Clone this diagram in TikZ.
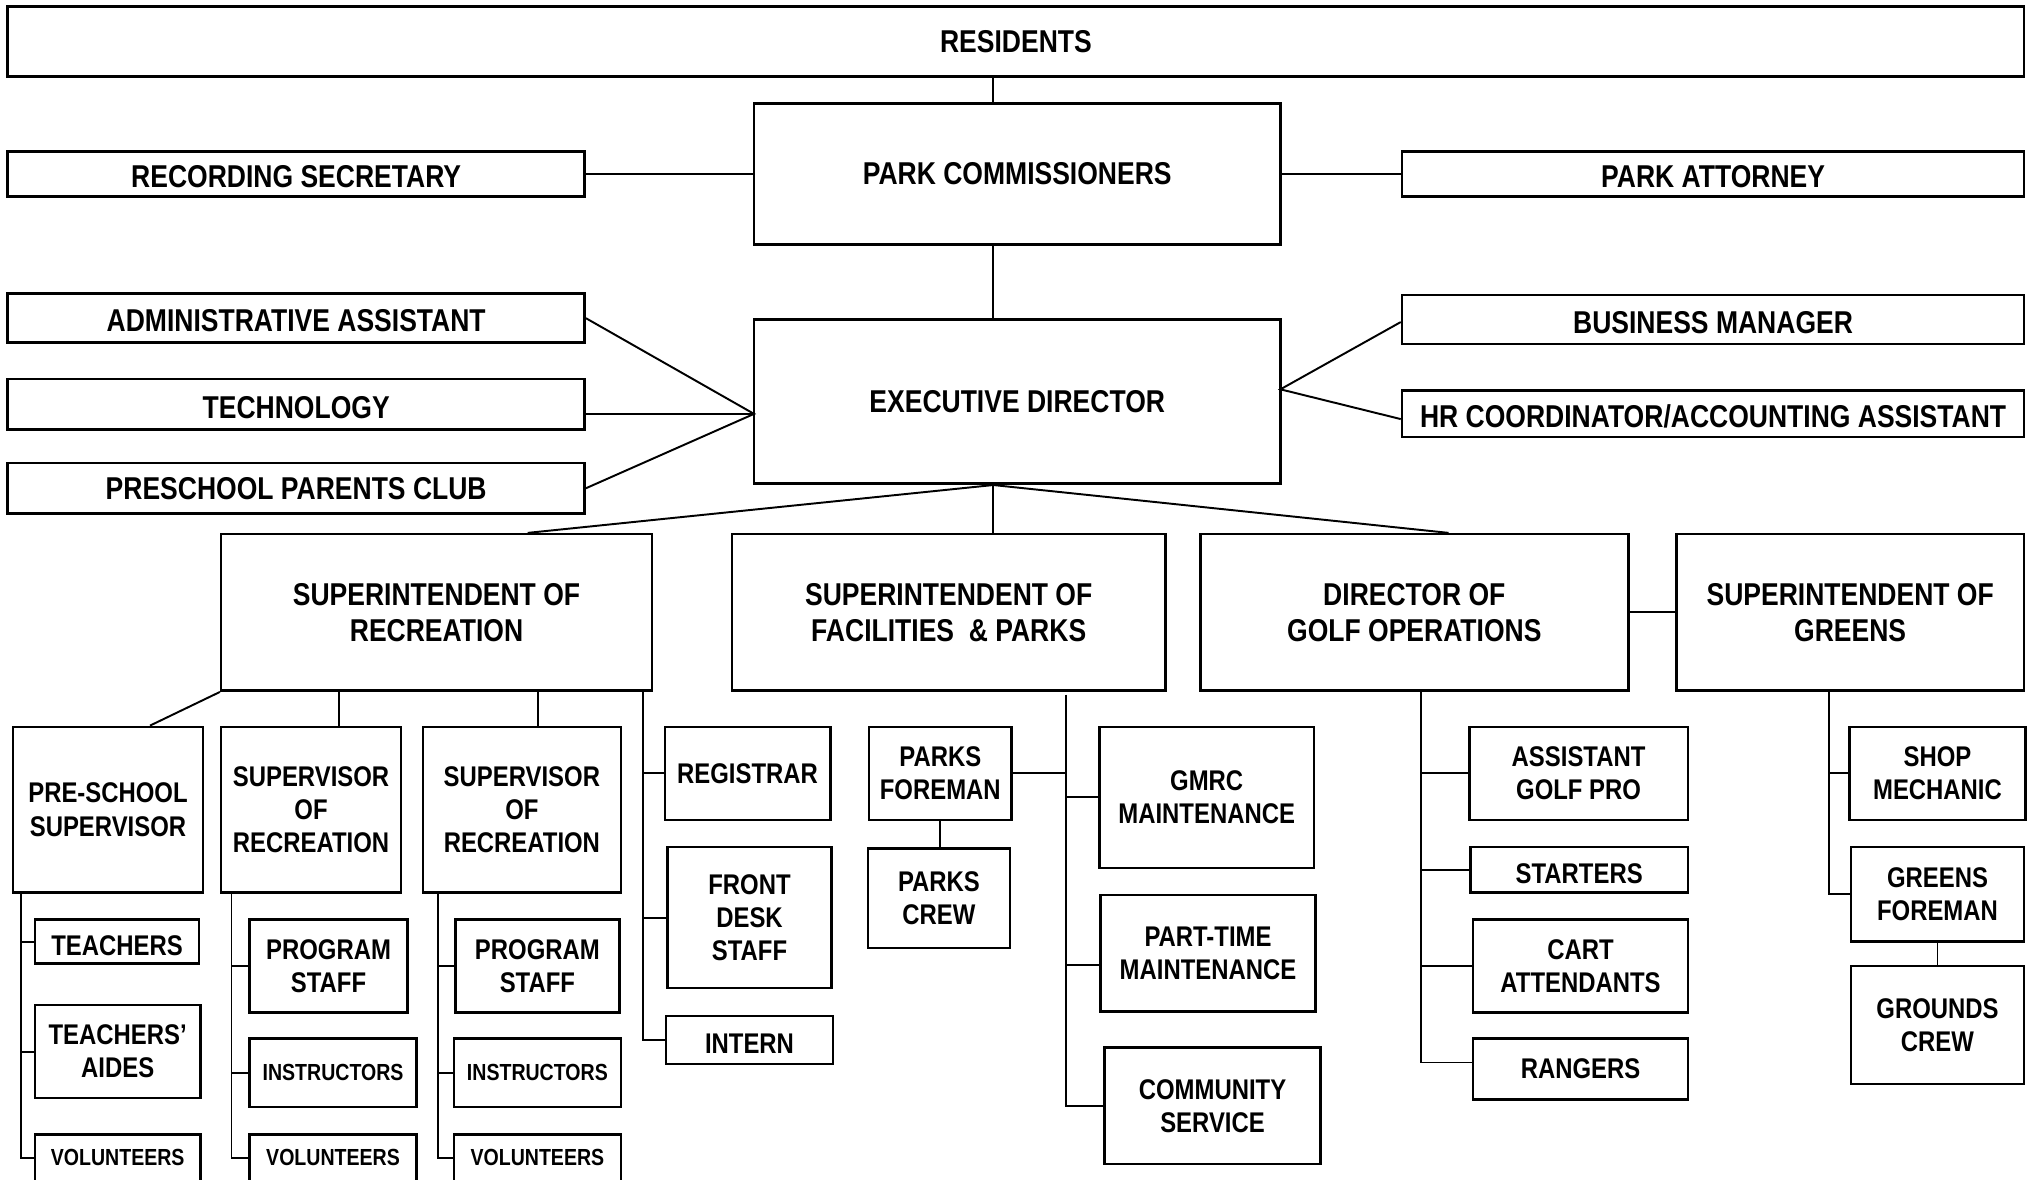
\documentclass[tikz,border=0pt]{standalone}
\usepackage{fontspec}
\setmainfont{Liberation Sans}[FakeStretch=0.84]

\newlength{\du}
\setlength{\du}{0.5pt}

\tikzset{
  box/.style={draw, line width=1pt, align=center, inner sep=0pt,
    font=\bfseries\fontsize{11}{12.8}\selectfont},
  bigbox/.style={box, font=\bfseries\fontsize{12.2}{14}\selectfont},
  smallbox/.style={box, font=\bfseries\fontsize{9}{11}\selectfont},
  lowtext/.style={text height=10.8pt},
  link/.style={line width=0.75pt},
}

\begin{document}
\begin{tikzpicture}[yscale=-1]
\useasboundingbox (0\du,0\du) rectangle (1568\du,912\du);
% board and staff
\node[bigbox, minimum width=1559\du, minimum height=54\du] (res) at (785.5\du,32\du) {RESIDENTS};
\node[bigbox, minimum width=407\du, minimum height=109\du] (pc) at (786.5\du,134.5\du) {PARK COMMISSIONERS};
\node[bigbox, lowtext, minimum width=446\du, minimum height=35\du] (rs) at (229\du,134.5\du) {RECORDING SECRETARY};
\node[bigbox, lowtext, minimum width=481\du, minimum height=35\du] (pa) at (1324.5\du,134.5\du) {PARK ATTORNEY};
\node[bigbox, minimum width=407\du, minimum height=127\du] (ed) at (786.5\du,310.5\du) {EXECUTIVE DIRECTOR};
\node[bigbox, lowtext, minimum width=446\du, minimum height=38\du] (adm) at (229\du,246\du) {ADMINISTRATIVE ASSISTANT};
\node[bigbox, lowtext, minimum width=446\du, minimum height=39\du] (tech) at (229\du,312.5\du) {TECHNOLOGY};
\node[bigbox, minimum width=446\du, minimum height=39\du] (ppc) at (229\du,377.5\du) {PRESCHOOL PARENTS CLUB};
\node[bigbox, lowtext, minimum width=481\du, minimum height=38\du] (bm) at (1324.5\du,247\du) {BUSINESS MANAGER};
\node[bigbox, lowtext, minimum width=481\du, minimum height=36\du] (hr) at (1324.5\du,320\du) {HR COORDINATOR/ACCOUNTING ASSISTANT};

% departments
\node[bigbox, minimum width=333\du, minimum height=121\du] (rec) at (337.5\du,473.5\du) {SUPERINTENDENT OF\\RECREATION};
\node[bigbox, minimum width=335\du, minimum height=121\du] (fac) at (733.5\du,473.5\du) {SUPERINTENDENT OF\\FACILITIES~~\& PARKS};
\node[bigbox, minimum width=331\du, minimum height=121\du] (golf) at (1093.5\du,473.5\du) {DIRECTOR OF\\GOLF OPERATIONS};
\node[bigbox, minimum width=269\du, minimum height=121\du] (grn) at (1430.5\du,473.5\du) {SUPERINTENDENT OF\\GREENS};

% recreation
\node[box, minimum width=147\du, minimum height=128\du] (pss) at (83.5\du,626\du) {PRE-SCHOOL\\SUPERVISOR};
\node[box, minimum width=139\du, minimum height=128\du] (sr1) at (240.5\du,626\du) {SUPERVISOR\\OF\\RECREATION};
\node[box, minimum width=153\du, minimum height=128\du] (sr2) at (403.5\du,626\du) {SUPERVISOR\\OF\\RECREATION};
\node[box, minimum width=128\du, minimum height=72\du] (reg) at (578\du,598\du) {REGISTRAR};
\node[box, minimum width=127\du, minimum height=109\du] (fds) at (579.5\du,709.5\du) {FRONT\\DESK\\STAFF};
\node[box, lowtext, minimum width=129\du, minimum height=37\du] (intern) at (579.5\du,804\du) {INTERN};

\node[box, lowtext, minimum width=127\du, minimum height=34\du] (tea) at (90.5\du,728\du) {TEACHERS};
\node[box, minimum width=128\du, minimum height=72\du] (aid) at (91\du,813\du) {TEACHERS’\\AIDES};
\node[smallbox, minimum width=128\du, minimum height=36\du] (vol1) at (91\du,895\du) {VOLUNTEERS};
\node[box, minimum width=122\du, minimum height=72\du] (prg1) at (254\du,747\du) {PROGRAM\\STAFF};
\node[smallbox, minimum width=129\du, minimum height=53\du] (ins1) at (257.5\du,829.5\du) {INSTRUCTORS};
\node[smallbox, minimum width=129\du, minimum height=36\du] (vol2) at (257.5\du,895\du) {VOLUNTEERS};
\node[box, minimum width=127\du, minimum height=72\du] (prg2) at (415.5\du,747\du) {PROGRAM\\STAFF};
\node[smallbox, minimum width=129\du, minimum height=53\du] (ins2) at (415.5\du,829.5\du) {INSTRUCTORS};
\node[smallbox, minimum width=129\du, minimum height=36\du] (vol3) at (415.5\du,895\du) {VOLUNTEERS};

% facilities and parks
\node[box, minimum width=110\du, minimum height=72\du] (pf) at (727\du,598\du) {PARKS\\FOREMAN};
\node[box, minimum width=110\du, minimum height=77\du] (pcrew) at (726\du,694.5\du) {PARKS\\CREW};
\node[box, minimum width=166\du, minimum height=109\du] (gmrc) at (933\du,616.5\du) {GMRC\\MAINTENANCE};
\node[box, minimum width=166\du, minimum height=90\du] (ptm) at (934\du,737\du) {PART-TIME\\MAINTENANCE};
\node[box, minimum width=167\du, minimum height=90\du] (cs) at (937.5\du,855\du) {COMMUNITY\\SERVICE};

% golf
\node[box, minimum width=169\du, minimum height=72\du] (agp) at (1220.5\du,598\du) {ASSISTANT\\GOLF PRO};
\node[box, lowtext, minimum width=168\du, minimum height=35\du] (start) at (1221\du,672.5\du) {STARTERS};
\node[box, minimum width=166\du, minimum height=72\du] (cart) at (1222\du,747\du) {CART\\ATTENDANTS};
\node[box, minimum width=166\du, minimum height=47\du] (rang) at (1222\du,826.5\du) {RANGERS};

% greens
\node[box, minimum width=136\du, minimum height=72\du] (shop) at (1498\du,598\du) {SHOP\\MECHANIC};
\node[box, minimum width=134\du, minimum height=73\du] (gf) at (1498\du,691.5\du) {GREENS\\FOREMAN};
\node[box, minimum width=134\du, minimum height=91\du] (gc) at (1498\du,792.5\du) {GROUNDS\\CREW};

% upper links
\coordinate (trunk) at (768\du,0\du);
\coordinate (edl) at (583\du,320\du);
\coordinate (edr) at (990\du,301\du);
\draw[link] (trunk |- res.south) -- (trunk |- pc.north);
\draw[link] (rs.east) -- (pc.west);
\draw[link] (pc.east) -- (pa.west);
\draw[link] (trunk |- pc.south) -- (trunk |- ed.north);
\draw[link] (adm.east) -- (edl) -- (ppc.east);
\draw[link] (tech.east |- edl) -- (edl);
\draw[link] ([yshift=2\du]bm.west) -- (edr) -- ([yshift=4\du]hr.west);
\draw[link] (trunk |- ed.south) -- (trunk |- fac.north);
\draw[link] ([xshift=70.5\du]rec.north) -- (trunk |- ed.south) -- ([xshift=26.5\du]golf.north);
\draw[link] (golf.east) -- (grn.west);

% recreation links
\coordinate (sr1x) at (262\du,0\du);
\coordinate (sr2x) at (416\du,0\du);
\coordinate (recsp) at (497\du,0\du);
\draw[link] (rec.south west) -- ([xshift=32.5\du]pss.north);
\draw[link] (sr1x |- rec.south) -- (sr1x |- sr1.north);
\draw[link] (sr2x |- rec.south) -- (sr2x |- sr2.north);
\draw[link] (recsp |- rec.south) |- (intern.west);
\draw[link] (recsp |- reg.west) -- (reg.west);
\draw[link] (recsp |- fds.west) -- (fds.west);

\coordinate (pssp) at (16\du,0\du);
\draw[link] (pssp |- pss.south) |- (vol1.west);
\draw[link] (pssp |- tea.west) -- (tea.west);
\draw[link] (pssp |- aid.west) -- (aid.west);
\coordinate (sr1sp) at (179\du,0\du);
\draw[link] (sr1sp |- sr1.south) |- (vol2.west);
\draw[link] (sr1sp |- prg1.west) -- (prg1.west);
\draw[link] (sr1sp |- ins1.west) -- (ins1.west);
\coordinate (sr2sp) at (339\du,0\du);
\draw[link] (sr2sp |- sr2.south) |- (vol3.west);
\draw[link] (sr2sp |- prg2.west) -- (prg2.west);
\draw[link] (sr2sp |- ins2.west) -- (ins2.west);

% facilities links
\coordinate (facsp) at (824\du,537\du);
\draw[link] (facsp) |- (cs.west);
\draw[link] (pf.east) -- (pf.east -| facsp);
\draw[link] (facsp |- gmrc.west) -- (gmrc.west);
\draw[link] ([yshift=9\du]facsp |- ptm.west) -- ([yshift=9\du]ptm.west);
\draw[link] (pf.south) -- (pcrew.north -| pf.south);

% golf links
\coordinate (golfsp) at (1099\du,0\du);
\draw[link] (golfsp |- golf.south) |- ([yshift=-5\du]rang.west);
\draw[link] (golfsp |- agp.west) -- (agp.west);
\draw[link] (golfsp |- start.west) -- (start.west);
\draw[link] (golfsp |- cart.west) -- (cart.west);

% greens links
\coordinate (grnsp) at (1414\du,0\du);
\draw[link] (grnsp |- grn.south) |- (gf.west);
\draw[link] (grnsp |- shop.west) -- (shop.west);
\draw[link] (gf.south) -- (gc.north -| gf.south);
\end{tikzpicture}
\end{document}
